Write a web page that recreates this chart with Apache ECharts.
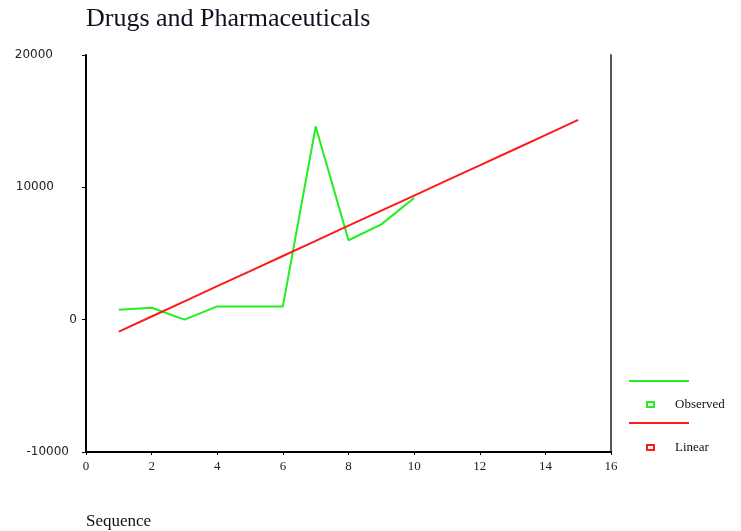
<!DOCTYPE html>
<html>
<head>
<meta charset="utf-8">
<script src="https://cdn.jsdelivr.net/npm/echarts@6/dist/echarts.min.js"></script>
<style>
  html, body { margin: 0; padding: 0; background: #fff; }
  #chart { width: 741px; height: 531px; }
</style>
</head>
<body>
<div id="chart"></div>
<script>
// data
const observedSeq = [1, 2, 3, 4, 5, 6, 7, 8, 9, 10]
const observedValues = [750, 900, 0, 1000, 1000, 1000, 14600, 6000, 7200, 9200]
const linearSeq = [1, 2, 3, 4, 5, 6, 7, 8, 9, 10, 11, 12, 13, 14, 15]
const linearValues = [-900, 240, 1380, 2530, 3670, 4810, 5950, 7100, 8240, 9380, 10520, 11660, 12800, 13950, 15100]
const yTicks = [-10000, 0, 10000, 20000]
const xTicks = [0, 2, 4, 6, 8, 10, 12, 14, 16]

const GREEN = '#22ee22'
const RED = '#ff1a1a'
const SERIF = '"Liberation Serif", "DejaVu Serif", serif'

// the original labels are not aligned to one edge, so each gets its own padding
const yPad = { '-10000': 8, '0': 0, '10000': 23, '20000': 24 }

const chart = echarts.init(document.getElementById('chart'))

chart.setOption({
  backgroundColor: '#fff',
  animation: false,
  title: [
    {
      text: 'Drugs and Pharmaceuticals',
      left: 81,
      top: 1,
      textStyle: { fontFamily: SERIF, fontSize: 26, fontWeight: 'normal', color: '#111122' }
    },
    {
      text: 'Sequence',
      left: 81,
      top: 508,
      textStyle: { fontFamily: SERIF, fontSize: 17, fontWeight: 'normal', color: '#111' }
    }
  ],
  grid: { left: 86, top: 55, width: 525, height: 397 },
  legend: [
    {
      data: ['Observed'],
      left: 641,
      top: 393,
      icon: 'rect',
      itemWidth: 7,
      itemHeight: 5,
      textStyle: { fontFamily: SERIF, fontSize: 13, color: '#111', padding: [0, 0, 0, 16] }
    },
    {
      data: ['Linear'],
      left: 641,
      top: 436,
      icon: 'rect',
      itemWidth: 7,
      itemHeight: 5,
      textStyle: { fontFamily: SERIF, fontSize: 13, color: '#111', padding: [0, 0, 0, 16] }
    }
  ],
  graphic: [
    { type: 'line', shape: { x1: 629, y1: 381, x2: 689, y2: 381 }, style: { stroke: GREEN, lineWidth: 2 } },
    { type: 'line', shape: { x1: 629, y1: 423, x2: 689, y2: 423 }, style: { stroke: RED, lineWidth: 2 } }
  ],
  xAxis: {
    type: 'value',
    min: xTicks[0],
    max: xTicks[xTicks.length - 1],
    interval: 2,
    splitLine: { show: false },
    axisLine: { onZero: false, lineStyle: { color: '#000', width: 2 } },
    axisTick: { show: true, length: 3, lineStyle: { color: '#000' } },
    axisLabel: { margin: 8, fontFamily: SERIF, fontSize: 13, color: '#222' }
  },
  yAxis: [
    {
      type: 'value',
      min: yTicks[0],
      max: yTicks[yTicks.length - 1],
      interval: 10000,
      splitLine: { show: false },
      axisLine: { show: true, onZero: false, lineStyle: { color: '#000', width: 2 } },
      axisTick: { show: true, length: 4, lineStyle: { color: '#000' } },
      axisLabel: {
        margin: 9,
        formatter: (v) => {
          const key = 'p' + String(v).replace('-', 'm')
          return '{' + key + '|' + v + '}'
        },
        rich: Object.fromEntries(Object.keys(yPad).map(k => [
          'p' + k.replace('-', 'm'),
          { padding: [0, yPad[k], 0, 0], fontFamily: '"DejaVu Sans", sans-serif', fontSize: 12, color: '#222' }
        ]))
      }
    },
    {
      type: 'value',
      position: 'right',
      min: yTicks[0],
      max: yTicks[yTicks.length - 1],
      interval: 10000,
      splitLine: { show: false },
      axisLine: { show: true, onZero: false, lineStyle: { color: '#555', width: 2 } },
      axisTick: { show: false },
      axisLabel: { show: false }
    }
  ],
  series: [
    {
      name: 'Observed',
      type: 'line',
      data: observedSeq.map((x, i) => [x, observedValues[i]]),
      showSymbol: false,
      lineStyle: { color: GREEN, width: 2 },
      itemStyle: { color: 'transparent', borderColor: GREEN, borderWidth: 1 }
    },
    {
      name: 'Linear',
      type: 'line',
      data: linearSeq.map((x, i) => [x, linearValues[i]]),
      showSymbol: false,
      lineStyle: { color: RED, width: 2 },
      itemStyle: { color: 'transparent', borderColor: RED, borderWidth: 1 }
    }
  ]
})
</script>
</body>
</html>
